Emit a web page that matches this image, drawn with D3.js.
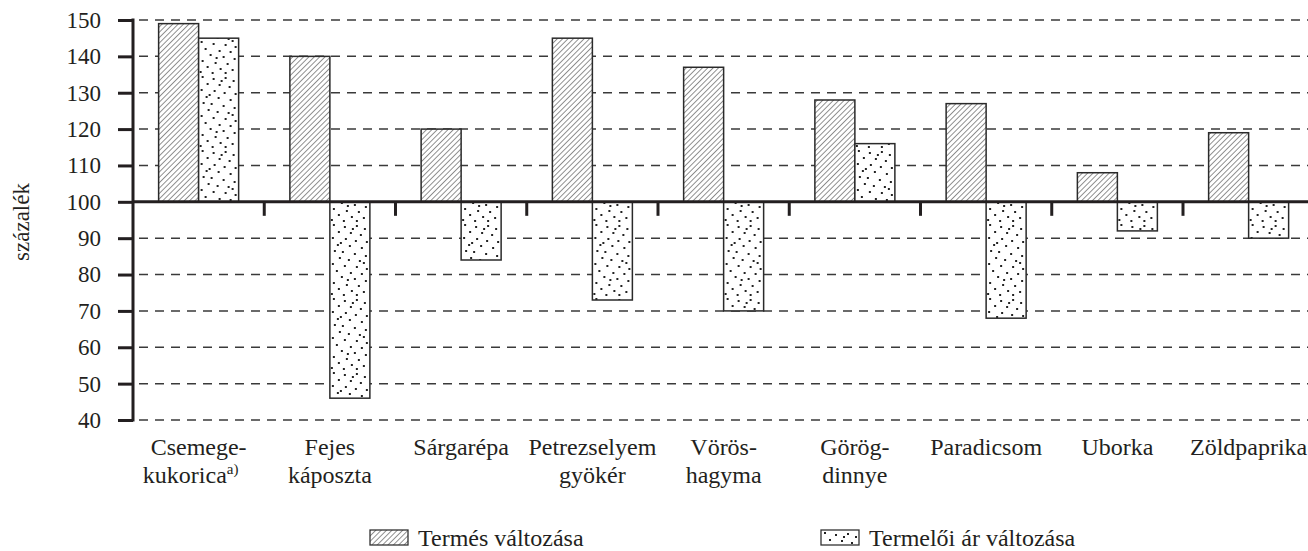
<!DOCTYPE html>
<html>
<head>
<meta charset="utf-8">
<script src="https://cdn.jsdelivr.net/npm/d3@7"></script>
<style>
  body { margin: 0; background: #fff; }
  text { font-family: "Liberation Serif", "Times New Roman", serif; fill: #231f20; }
</style>
</head>
<body>
<svg></svg>
<script>
const width = 1308,
  height = 551

// data
const categories = [
  ["Csemege-", "kukorica"],
  ["Fejes", "káposzta"],
  ["Sárgarépa"],
  ["Petrezselyem", "gyökér"],
  ["Vörös-", "hagyma"],
  ["Görög-", "dinnye"],
  ["Paradicsom"],
  ["Uborka"],
  ["Zöldpaprika"]
]
const footnotes = ["a)", "", "", "", "", "", "", "", ""]
const termes = [149, 140, 120, 145, 137, 128, 127, 108, 119]
const ar = [145, 46, 84, 73, 70, 116, 68, 92, 90]
const seriesNames = ["Termés változása", "Termelői ár változása"]
const yTicks = [40, 50, 60, 70, 80, 90, 100, 110, 120, 130, 140, 150]
const yLabel = "százalék"
const baseValue = 100

const plotLeft = 133,
  plotTop = 20,
  plotBottom = 420

const svg = d3.select("svg").attr("width", width).attr("height", height)
const defs = svg.append("defs")

const y = d3.scaleLinear().domain([40, 150]).range([plotBottom, plotTop])
const x = d3.scaleBand()
  .domain(d3.range(categories.length))
  .range([plotLeft, plotLeft + 9 * 131.25])
const inner = d3.scaleBand().domain([0, 1]).range([0, 80])
const barOffset = (x.bandwidth() - 80) / 2

// hatch pattern
const hatch = defs.append("pattern")
  .attr("id", "hatch")
  .attr("patternUnits", "userSpaceOnUse")
  .attr("width", 3.8).attr("height", 3.8)
  .attr("patternTransform", "rotate(45)")
hatch.append("rect").attr("width", 3.8).attr("height", 3.8).attr("fill", "#fff")
hatch.append("line")
  .attr("x1", 0).attr("y1", 0).attr("x2", 0).attr("y2", 3.8)
  .attr("stroke", "#222").attr("stroke-width", 1)

// dotted texture
const dotTile = [
  [3, 2], [14, 4], [26, 3], [34, 6], [8, 9], [20, 10], [30, 12], [2, 15],
  [15, 16], [25, 18], [36, 19], [7, 22], [19, 23], [31, 25], [4, 28],
  [12, 29], [24, 31], [35, 33], [9, 35], [18, 37], [29, 38], [2, 41],
  [14, 43], [26, 44], [36, 46], [6, 48], [20, 50], [31, 51], [11, 54], [24, 56],
  [35, 58], [3, 60], [16, 62], [28, 63], [8, 66], [21, 68], [33, 69], [1, 71],
  [13, 72], [26, 72], [22, 6], [10, 20], [33, 40], [17, 57]
]
const dots = defs.append("pattern")
  .attr("id", "dots")
  .attr("patternUnits", "userSpaceOnUse")
  .attr("width", 40).attr("height", 74)
dots.append("rect").attr("width", 40).attr("height", 74).attr("fill", "#fff")
dots.selectAll("rect.d")
  .data(dotTile)
  .join("rect")
  .attr("class", "d")
  .attr("x", d => d[0]).attr("y", d => d[1])
  .attr("width", 2).attr("height", 2)
  .attr("fill", "#222")

// dashed gridlines
svg.append("g")
  .selectAll("line")
  .data(yTicks.filter(d => d !== baseValue))
  .join("line")
  .attr("x1", plotLeft).attr("x2", width)
  .attr("y1", d => y(d)).attr("y2", d => y(d))
  .attr("stroke", "#3a3a3a")
  .attr("stroke-width", 1.5)
  .attr("stroke-dasharray", "9,7")
  .attr("stroke-dashoffset", -6)

// bars
const rows = categories.map((c, i) => ({ i, values: [termes[i], ar[i]] }))
const fills = ["url(#hatch)", "url(#dots)"]
const groups = svg.append("g")
  .selectAll("g")
  .data(rows)
  .join("g")
  .attr("transform", d => `translate(${x(d.i) + barOffset},0)`)
groups.selectAll("rect")
  .data(d => d.values.map((v, k) => ({ v, k })))
  .join("rect")
  .attr("x", d => inner(d.k))
  .attr("width", inner.bandwidth())
  .attr("y", d => Math.min(y(d.v), y(baseValue)))
  .attr("height", d => Math.abs(y(d.v) - y(baseValue)))
  .attr("fill", d => fills[d.k])
  .attr("stroke", "#2a2a2a")
  .attr("stroke-width", 1.5)

// y axis
const yAxis = svg.append("g")
  .attr("transform", `translate(${plotLeft},0)`)
  .call(d3.axisLeft(y).tickValues(yTicks).tickSize(15).tickPadding(17))
yAxis.select(".domain").remove()
yAxis.selectAll(".tick line").attr("stroke", "#231f20").attr("stroke-width", 3)
yAxis.selectAll(".tick text")
  .style("font-family", "Liberation Serif")
  .style("font-size", "23px")
  .attr("fill", "#231f20")
svg.append("line")
  .attr("x1", plotLeft).attr("x2", plotLeft)
  .attr("y1", plotTop - 1.5).attr("y2", plotBottom + 1.5)
  .attr("stroke", "#231f20").attr("stroke-width", 3)

// base line at 100 with category ticks
svg.append("line")
  .attr("x1", plotLeft).attr("x2", width)
  .attr("y1", y(baseValue)).attr("y2", y(baseValue))
  .attr("stroke", "#231f20").attr("stroke-width", 3)
svg.append("g")
  .selectAll("line")
  .data(d3.range(1, categories.length))
  .join("line")
  .attr("x1", d => x(d)).attr("x2", d => x(d))
  .attr("y1", y(baseValue)).attr("y2", y(baseValue) + 14)
  .attr("stroke", "#231f20").attr("stroke-width", 3)

// category labels
const labels = svg.append("g")
  .selectAll("text")
  .data(categories)
  .join("text")
  .attr("text-anchor", "middle")
  .attr("x", (d, i) => x(i) + x.bandwidth() / 2)
  .attr("y", 455)
  .style("font-size", "24px")
labels.each(function (d, i) {
  const t = d3.select(this)
  d.forEach((line, k) => {
    const span = t.append("tspan")
      .attr("x", x(i) + x.bandwidth() / 2)
      .attr("dy", k === 0 ? 0 : 28)
      .text(line)
    if (k === d.length - 1 && footnotes[i]) {
      span.attr("dx", -8)
      t.append("tspan")
        .attr("dy", -9)
        .style("font-size", "15px")
        .text(footnotes[i])
    }
  })
})

// y label
svg.append("text")
  .attr("transform", "translate(29,222) rotate(-90)")
  .attr("text-anchor", "middle")
  .style("font-size", "23px")
  .text(yLabel)

// legend
const legendX = [370, 821]
const legend = svg.append("g")
  .selectAll("g")
  .data(seriesNames)
  .join("g")
  .attr("transform", (d, i) => `translate(${legendX[i]},530)`)
legend.append("rect")
  .attr("width", 38).attr("height", 15)
  .attr("fill", (d, i) => fills[i])
  .attr("stroke", "#333").attr("stroke-width", 1.3)
legend.append("text")
  .attr("x", 48).attr("y", 16)
  .style("font-size", "24px")
  .text(d => d)
</script>
</body>
</html>
